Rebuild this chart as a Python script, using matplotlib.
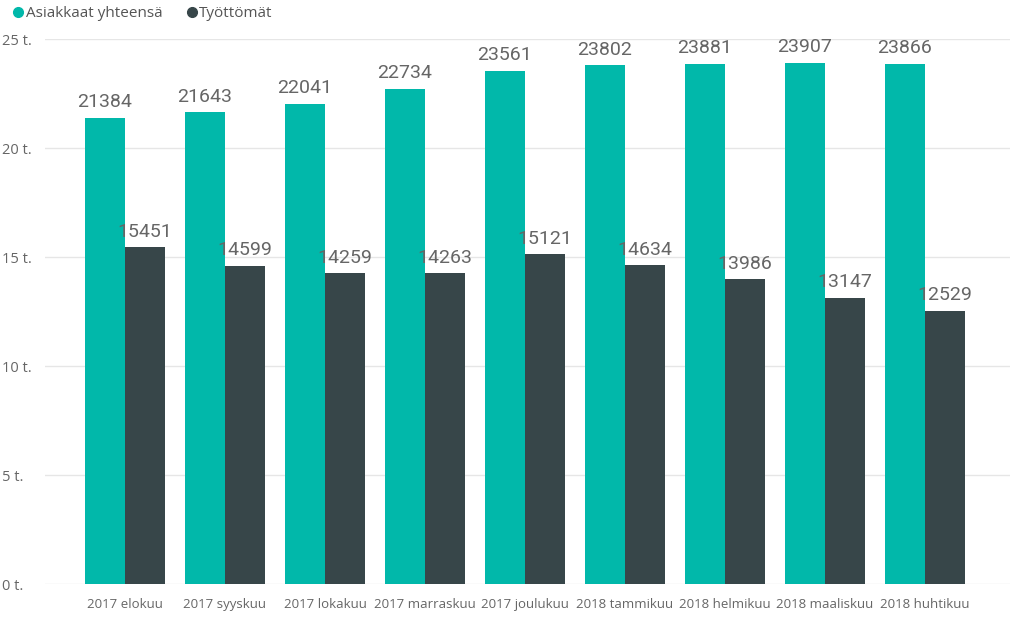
import numpy as np
import matplotlib
matplotlib.use("Agg")
from matplotlib import pyplot as plt
from matplotlib.lines import Line2D

months = ["2017 elokuu", "2017 syyskuu", "2017 lokakuu", "2017 marraskuu", "2017 joulukuu",
          "2018 tammikuu", "2018 helmikuu", "2018 maaliskuu", "2018 huhtikuu"]
asiakkaat = [21384, 21643, 22041, 22734, 23561, 23802, 23881, 23907, 23866]
tyottomat = [15451, 14599, 14259, 14263, 15121, 14634, 13986, 13147, 12529]
yticks = [0, 5000, 10000, 15000, 20000, 25000]
ytick_labels = ["0 t.", "5 t.", "10 t.", "15 t.", "20 t.", "25 t."]

teal = "#01B8AA"
dark = "#374649"

fig = plt.figure(figsize=(10.24, 6.22), dpi=100)
ax = fig.add_axes([0.044, 0.061, 0.942, 0.876])

x = np.arange(len(months))
w = 0.4
b1 = ax.bar(x - w / 2, asiakkaat, width=w, color=teal, zorder=3)
b2 = ax.bar(x + w / 2, tyottomat, width=w, color=dark, zorder=3)

lab_font = dict(family="Roboto", fontsize=14, color="#666666")
for rect, v in zip(b1, asiakkaat):
    ax.text(rect.get_x() + rect.get_width() / 2, v + 300, str(v), ha="center", va="bottom", **lab_font)
for rect, v in zip(b2, tyottomat):
    ax.text(rect.get_x() + rect.get_width() / 2, v + 300, str(v), ha="center", va="bottom", **lab_font)

ax.set_xlim(-0.8, 8.85)
ax.set_ylim(0, 25000)
ax.set_yticks(yticks)
ax.set_yticklabels(ytick_labels)
ax.set_xticks(x)
ax.set_xticklabels(months)
ax.grid(axis="y", color="#e6e6e6", linewidth=1, zorder=0)
for s in ax.spines.values():
    s.set_visible(False)
ax.tick_params(axis="x", length=0, labelsize=9.5, labelcolor="#666666", pad=10)
ax.tick_params(axis="y", length=0, labelsize=10.5, labelcolor="#666666")
for t in ax.get_xticklabels() + ax.get_yticklabels():
    t.set_family("Open Sans")
for t in ax.get_yticklabels():
    t.set_horizontalalignment("left")
    t.set_x(-0.04)

handles = [Line2D([], [], marker="o", linestyle="", color=teal, markersize=7),
           Line2D([], [], marker="o", linestyle="", color=dark, markersize=7)]
fig.legend(handles, ["Asiakkaat yhteensä", "Työttömät"], loc="upper left",
           bbox_to_anchor=(-0.003, 1.012), ncol=2, frameon=False, handletextpad=0.0,
           columnspacing=1.4, prop={"family": "Open Sans", "size": 11}, labelcolor="#555555",
           handlelength=1.0)

fig.savefig("out.png", dpi=100)
